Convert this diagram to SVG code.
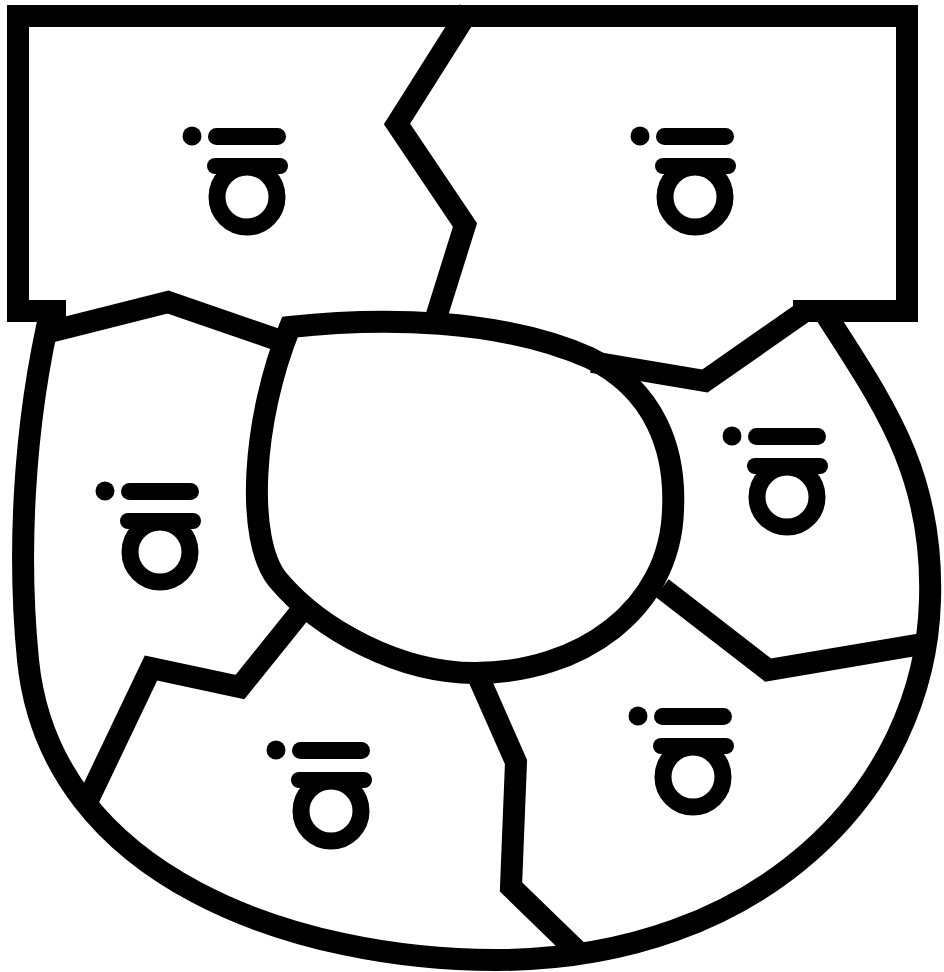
<svg xmlns="http://www.w3.org/2000/svg" xmlns:xlink="http://www.w3.org/1999/xlink" width="944" height="972" viewBox="0 0 944 972">
  <style>
    .ln { fill: none; stroke: #000; stroke-width: 22; stroke-linejoin: miter; stroke-miterlimit: 10; }
    .gl { fill: #000; }
    .ring { fill: none; stroke: #000; stroke-width: 17; }
  </style>
  <defs>
    <g id="mark">
      <circle class="gl" cx="-55" cy="-61" r="9.5"/>
      <rect class="gl" x="-39" y="-69" width="78" height="17" rx="8.5"/>
      <circle class="ring" cx="0" cy="0" r="30"/>
      <rect class="gl" x="-40" y="-39" width="81" height="16" rx="8"/>
    </g>
  </defs>
  <rect width="944" height="972" fill="#fff"/>
  <g id="connectors">
    <path id="top-frame" class="ln" d="M 66 311 H 18 V 16 H 907 V 311 H 793"/>
    <path id="outer-wall" class="ln" d="M 52 305 C 22 430, 18 560, 28 660 C 50 880, 300 960, 496 960 C 760 960, 925 790, 930 600 C 934 470, 880 400, 823 310"/>
    <path id="center-blob" class="ln" d="M 290 327 C 380 317, 500 318, 590 358 C 655 390, 676 450, 673 510 C 670 610, 580 673, 475 673 C 400 673, 320 630, 278 580 C 245 540, 252 420, 290 327 Z"/>
    <path id="div-top" class="ln" d="M 469 10 L 397 124 L 465 225 L 434 324"/>
    <path id="div-left-top" class="ln" d="M 45 333 L 168 302 L 278 340"/>
    <path id="div-right-top" class="ln" d="M 808 309 L 705 381 L 592 362"/>
    <path id="div-right-mid" class="ln" d="M 662 588 L 768 670 L 922 644"/>
    <path id="div-left-bottom" class="ln" d="M 302 610 L 240 687 L 151 668 L 88 800"/>
    <path id="div-bottom" class="ln" d="M 478 676 L 516 762 L 511 887 L 578 952"/>
  </g>
  <g id="region-top-left"><use xlink:href="#mark" href="#mark" transform="translate(247 197)"/></g>
  <g id="region-top-right"><use xlink:href="#mark" href="#mark" transform="translate(695 197)"/></g>
  <g id="region-left"><use xlink:href="#mark" href="#mark" transform="translate(160 552)"/></g>
  <g id="region-right"><use xlink:href="#mark" href="#mark" transform="translate(787 497)"/></g>
  <g id="region-bottom-left"><use xlink:href="#mark" href="#mark" transform="translate(331 811)"/></g>
  <g id="region-bottom-right"><use xlink:href="#mark" href="#mark" transform="translate(693 777)"/></g>
</svg>
